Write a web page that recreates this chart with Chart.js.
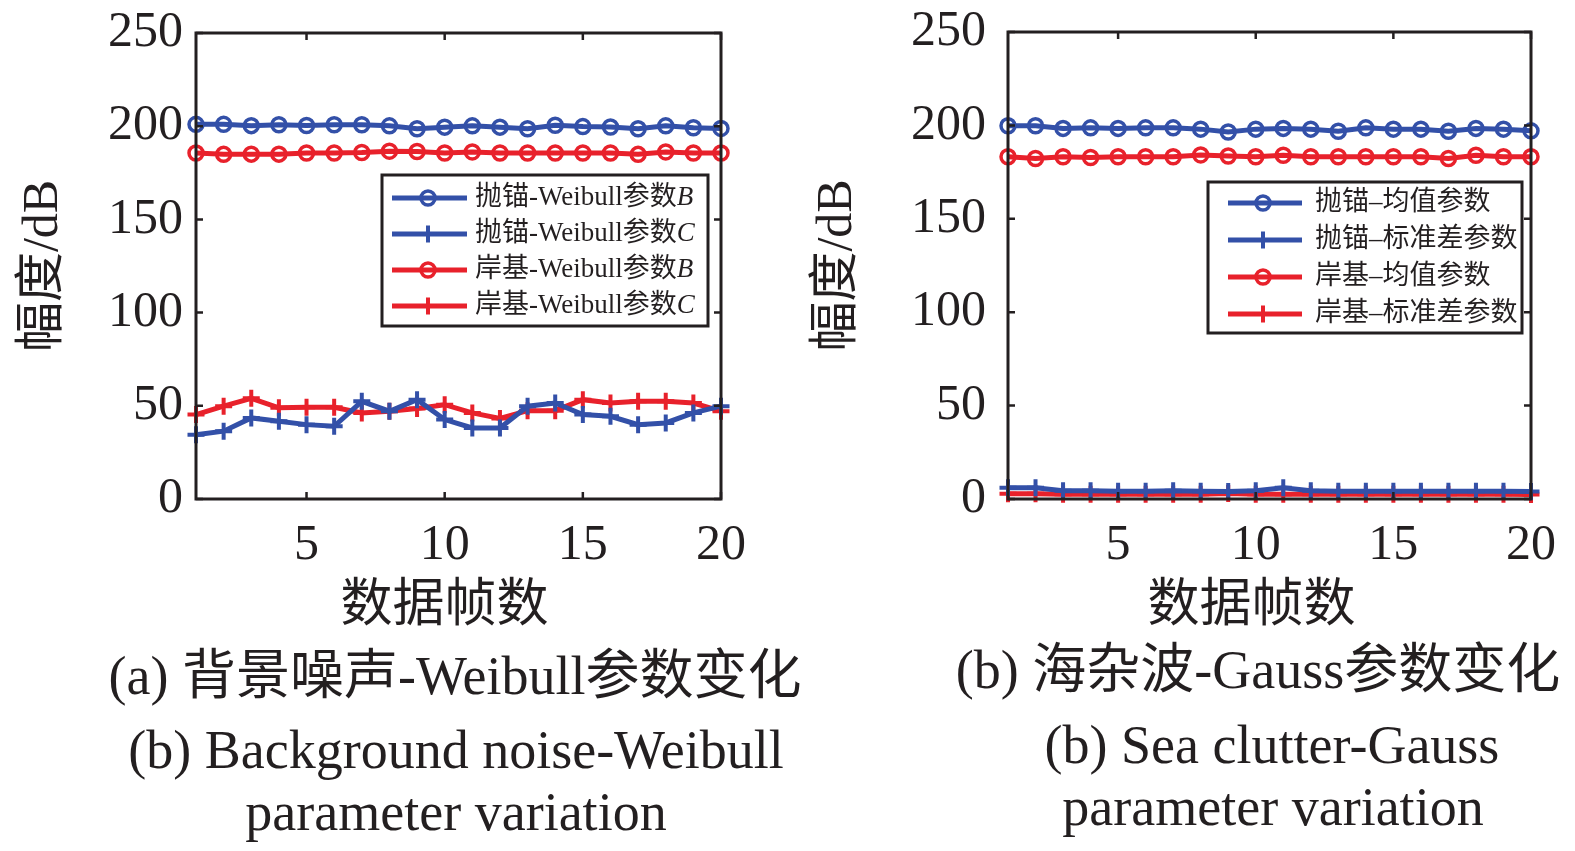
<!DOCTYPE html>
<html><head><meta charset="utf-8">
<script src="https://cdn.jsdelivr.net/npm/chart.js@4.4.0/dist/chart.umd.min.js"></script>
<style>
html,body{margin:0;padding:0;background:#fff;width:1575px;height:851px;overflow:hidden;}
canvas{position:absolute;}
.cap{position:absolute;font-family:'Liberation Serif','Noto Sans CJK SC',serif;font-size:54px;color:#231f20;white-space:nowrap;transform:translate(-50%,-50%);line-height:1;}
</style></head><body>
<canvas id="c1" width="790" height="650" style="left:0;top:-10px"></canvas>
<canvas id="c2" width="785" height="660" style="left:790px;top:-20px"></canvas>
<div class="cap" style="left:455px;top:676px">(a) 背景噪声-Weibull参数变化</div>
<div class="cap" style="left:456px;top:750px">(b) Background noise-Weibull</div>
<div class="cap" style="left:456px;top:812px">parameter variation</div>
<div class="cap" style="left:1258px;top:670px">(b) 海杂波-Gauss参数变化</div>
<div class="cap" style="left:1272px;top:745px">(b) Sea clutter-Gauss</div>
<div class="cap" style="left:1273px;top:807px">parameter variation</div>
<script>
// ---- data ----
const frames = [1,2,3,4,5,6,7,8,9,10,11,12,13,14,15,16,17,18,19,20];
const xTicks = [5,10,15,20];
const yTicks = [0,50,100,150,200,250];
const xTitle = '数据帧数';
const yTitle = '幅度/dB';

// (a) Background noise - Weibull
const anchorWeibullB = [201,201,200.3,200.8,200.4,200.8,200.8,200.2,198.6,199.5,200.2,199.5,198.6,200.5,199.8,199.6,198.6,200.2,199.2,198.8];
const anchorWeibullC = [34.5,36.4,43.5,41.7,39.9,39,52.4,47.1,53.3,42.6,38.1,38.1,49.8,51.5,45.3,44.4,39.9,40.8,46.2,49.8];
const shoreWeibullB  = [185.6,184.9,185,185,185.6,185.6,185.9,186.6,186.4,185.6,186.2,185.6,185.6,185.6,185.6,185.6,184.9,186.2,185.6,185.6];
const shoreWeibullC  = [45.3,49.8,54,48.9,49.2,49.2,46.2,47.1,48.5,50.6,46.2,43.2,47.4,47.4,53.3,51.5,52.4,52.4,51.5,47.1];

// (b) Sea clutter - Gauss
const anchorGaussMean = [199.8,199.8,198.4,198.7,198.4,198.7,198.7,198,196.5,198,198.4,198,196.9,198.7,198,198,196.9,198.4,198,197.1];
const anchorGaussStd  = [6,6,4.4,4.4,4.2,4.2,4.4,4.2,4,4.4,6,4.4,4.2,4.2,4.2,4.2,4.2,4.2,4.2,4];
const shoreGaussMean  = [183.2,182.3,183.2,182.8,183.2,183.2,183.2,184.2,183.6,183.2,184,183.2,183.2,183.2,183.2,183.2,182.3,184,183.2,183.2];
const shoreGaussStd   = [2.8,2.8,2.6,2.6,2.6,2.6,2.6,2.6,3,2.6,2.6,2.6,2.6,2.6,2.6,2.6,2.6,2.6,2.6,2.4];

const labelsA = ['抛锚-Weibull参数B','抛锚-Weibull参数C','岸基-Weibull参数B','岸基-Weibull参数C'];
const labelsB = ['抛锚–均值参数','抛锚–标准差参数','岸基–均值参数','岸基–标准差参数'];

// ---- styles ----
const BLUE = '#3350a8', RED = '#e8212b', INK = '#231f20';
const FONT = "'Liberation Serif','Noto Sans CJK SC',serif";

function ds(label, values, color, marker){
  const circle = marker === 'circle';
  return {
    label, data: frames.map((f,i)=>({x:f, y:values[i]})),
    borderColor: color, backgroundColor: color, borderWidth: 5,
    pointStyle: marker, pointRadius: circle ? 7 : 8.5,
    pointBorderWidth: circle ? 3.5 : 4,
    pointBackgroundColor: 'rgba(0,0,0,0)', pointBorderColor: color,
    tension: 0, clip: false
  };
}

const framePlugin = {
  id: 'frame',
  afterDatasetsDraw(chart, args, o){
    const {ctx, chartArea:a, scales:{x, y}} = chart;
    ctx.save();
    ctx.strokeStyle = INK; ctx.lineWidth = 2.5;
    ctx.beginPath();
    const L = 7;
    x.ticks.forEach(t=>{ const p = x.getPixelForValue(t.value);
      ctx.moveTo(p, a.bottom); ctx.lineTo(p, a.bottom - L);
      ctx.moveTo(p, a.top); ctx.lineTo(p, a.top + L); });
    y.ticks.forEach(t=>{ const p = y.getPixelForValue(t.value);
      ctx.moveTo(a.left, p); ctx.lineTo(a.left + L, p);
      ctx.moveTo(a.right, p); ctx.lineTo(a.right - L, p); });
    ctx.stroke();
    ctx.lineWidth = 3;
    ctx.strokeRect(a.left, a.top, a.right - a.left, a.bottom - a.top);
    // x axis title
    ctx.fillStyle = INK; ctx.font = `52px ${FONT}`;
    ctx.textAlign = 'center'; ctx.textBaseline = 'middle';
    ctx.fillText(o.xTitle, (a.left + a.right) / 2 + o.xdx, a.bottom + o.xdy);
    ctx.restore();
  }
};

function drawMarker(ctx, style, r, bw, color, cx, cy){
  ctx.save();
  ctx.strokeStyle = color; ctx.lineWidth = bw;
  ctx.beginPath();
  if (style === 'circle'){ ctx.arc(cx, cy, r, 0, Math.PI*2); }
  else { ctx.moveTo(cx - r, cy); ctx.lineTo(cx + r, cy); ctx.moveTo(cx, cy - r); ctx.lineTo(cx, cy + r); }
  ctx.stroke();
  ctx.restore();
}

const boxLegend = {
  id: 'boxLegend',
  afterDraw(chart, args, o){
    const {ctx, chartArea:a} = chart;
    const bx = a.left + o.dx, by = a.top + o.dy;
    ctx.save();
    ctx.fillStyle = '#fff'; ctx.fillRect(bx, by, o.w, o.h);
    ctx.strokeStyle = INK; ctx.lineWidth = 3; ctx.strokeRect(bx, by, o.w, o.h);
    ctx.textBaseline = 'middle';
    chart.data.datasets.forEach((d, i)=>{
      const cy = by + o.row0 + i * o.gap;
      ctx.strokeStyle = d.borderColor; ctx.lineWidth = 5;
      ctx.beginPath(); ctx.moveTo(bx + o.l0, cy); ctx.lineTo(bx + o.l1, cy); ctx.stroke();
      drawMarker(ctx, d.pointStyle, d.pointRadius, d.pointBorderWidth, d.borderColor, bx + o.mx, cy);
      let main = d.label, ital = '';
      if (/[A-Z]$/.test(main) && !/[A-Za-z]/.test(main.charAt(main.length-2))){ ital = main.slice(-1); main = main.slice(0,-1); }
      ctx.fillStyle = INK;
      ctx.font = `27px ${FONT}`;
      ctx.fillText(main, bx + o.tx, cy);
      if (ital){
        const w = ctx.measureText(main).width;
        ctx.font = `italic 27px ${FONT}`;
        ctx.fillText(ital, bx + o.tx + w, cy);
      }
    });
    ctx.restore();
  }
};

function makeChart(id, datasets, geo, legendOpts){
  return new Chart(document.getElementById(id), {
    type: 'line',
    data: { datasets },
    options: {
      responsive: false, animation: false, devicePixelRatio: 1,
      layout: { padding: { left: 0, top: 0, right: geo.right, bottom: 0 } },
      plugins: {
        legend: { display: false }, tooltip: { enabled: false },
        boxLegend: legendOpts,
        frame: { xTitle: xTitle, xdx: geo.xdx, xdy: 108 }
      },
      scales: {
        x: {
          type: 'linear', min: 1, max: 20,
          afterBuildTicks: s => { s.ticks = xTicks.map(v => ({ value: v })); },
          afterFit: s => { s.height = geo.xh; },
          grid: { display: false, drawTicks: false }, border: { display: false },
          ticks: { color: INK, font: { family: FONT, size: 50 }, padding: 17, maxRotation: 0 },
          title: { display: false }
        },
        y: {
          min: 0, max: 250,
          afterBuildTicks: s => { s.ticks = yTicks.map(v => ({ value: v })); },
          afterFit: s => { s.width = geo.yw; },
          grid: { display: false, drawTicks: false }, border: { display: false },
          ticks: { color: INK, font: { family: FONT, size: 50 }, padding: geo.ytpad },
          title: { display: true, text: yTitle, color: INK, font: { family: FONT, size: 50 }, padding: { top: geo.ytp, bottom: 0 } }
        }
      }
    },
    plugins: [framePlugin, boxLegend]
  });
}

makeChart('c1', [
  ds(labelsA[0], anchorWeibullB, BLUE, 'circle'),
  ds(labelsA[1], anchorWeibullC, BLUE, 'cross'),
  ds(labelsA[2], shoreWeibullB, RED, 'circle'),
  ds(labelsA[3], shoreWeibullC, RED, 'cross')
], { right: 69, xh: 141, yw: 196, ytp: 14, ytpad: 13, xdx: -14 },
   { dx: 186, dy: 142, w: 326, h: 151, row0: 23, gap: 36, l0: 10, l1: 85, mx: 46, tx: 93 });

makeChart('c2', [
  ds(labelsB[0], anchorGaussMean, BLUE, 'circle'),
  ds(labelsB[1], anchorGaussStd, BLUE, 'cross'),
  ds(labelsB[2], shoreGaussMean, RED, 'circle'),
  ds(labelsB[3], shoreGaussStd, RED, 'cross')
], { right: 44, xh: 141, yw: 218, ytp: 18, ytpad: 22, xdx: -18 },
   { dx: 200, dy: 150, w: 314, h: 151, row0: 21, gap: 37, l0: 20, l1: 94, mx: 55, tx: 107 });
</script>
</body></html>
